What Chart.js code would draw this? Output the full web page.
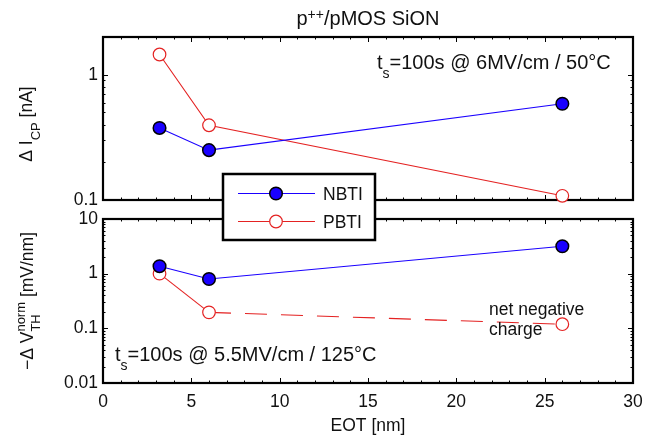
<!DOCTYPE html>
<html>
<head>
<meta charset="utf-8">
<script src="https://cdn.jsdelivr.net/npm/chart.js@4.4.1/dist/chart.umd.min.js"></script>
<style>
  html, body { margin: 0; padding: 0; background: #fff; }
  #wrap { position: relative; width: 659px; height: 441px; }
  #wrap canvas { position: absolute; left: 0; top: 0; }
</style>
</head>
<body>
<div id="wrap">
  <canvas id="icpChart" width="659" height="441"></canvas>
  <canvas id="vthChart" width="659" height="441"></canvas>
</div>
<script>
// EOT in nm for the three gate stacks
const eot = [3.2, 6, 26];

// charge pumping current shift, nA
const nbtiIcp = [0.376, 0.25, 0.587];
const pbtiIcp = [1.45, 0.395, 0.108];

// normalised threshold voltage shift, mV/nm
const nbtiVth = [1.37, 0.80, 3.18];
const pbtiVth = [1.0, 0.196, 0.119];
const pbtiDashFrom = 1; // PBTI segment from this point on is dashed

const xTicks = [0, 5, 10, 15, 20, 25, 30];
const icpTicks = [0.1, 1];
const vthTicks = [0.01, 0.1, 1, 10];

const FONT = '"Liberation Sans", Arial, Helvetica, sans-serif';
const BLUE = '#1a00ff';
const RED = '#e42222';

const pts = (xs, ys) => xs.map((x, i) => ({ x: x, y: ys[i] }));

// draws text pieces: [text, kind] with kind '', 'sub', 'sup' or 'stack' ([sub, sup])
function richText(ctx, x, y, parts, size, align) {
  const small = Math.round(size * 0.72);
  const widthOf = p => {
    if (p[1] === 'stack') {
      ctx.font = small + 'px ' + FONT;
      return Math.max(ctx.measureText(p[0][0]).width, ctx.measureText(p[0][1]).width);
    }
    ctx.font = (p[1] ? small : size) + 'px ' + FONT;
    return ctx.measureText(p[0]).width;
  };
  let total = 0;
  parts.forEach(p => { total += widthOf(p); });
  let cx = align === 'center' ? x - total / 2 : x;
  ctx.textAlign = 'left';
  ctx.textBaseline = 'alphabetic';
  parts.forEach(p => {
    const w = widthOf(p);
    if (p[1] === 'stack') {
      ctx.font = small + 'px ' + FONT;
      ctx.fillText(p[0][0], cx, y + size * 0.4);
      ctx.fillText(p[0][1], cx, y - size * 0.45);
    } else {
      ctx.font = (p[1] ? small : size) + 'px ' + FONT;
      const dy = p[1] === 'sub' ? size * 0.45 : p[1] === 'sup' ? -size * 0.3 : 0;
      ctx.fillText(p[0], cx, y + dy);
    }
    cx += w;
  });
}

// black box with inward major/minor ticks on all four sides
const framePlugin = {
  id: 'frame',
  beforeDatasetsDraw(chart) {
    const ctx = chart.ctx;
    const a = chart.chartArea;
    const xs = chart.scales.x, ys = chart.scales.y;
    ctx.save();
    ctx.strokeStyle = '#000';
    ctx.lineWidth = 1;
    ctx.beginPath();
    for (let v = xs.min; v <= xs.max; v += 1) {
      const px = Math.round(xs.getPixelForValue(v)) + 0.5;
      const len = v % 5 === 0 ? 5 : 2.5;
      ctx.moveTo(px, a.bottom); ctx.lineTo(px, a.bottom - len);
      ctx.moveTo(px, a.top); ctx.lineTo(px, a.top + len);
    }
    const d0 = Math.floor(Math.log10(ys.min)), d1 = Math.ceil(Math.log10(ys.max));
    for (let d = d0; d <= d1; d++) {
      for (let m = 1; m <= 9; m++) {
        const v = m * Math.pow(10, d);
        if (v < ys.min * 0.999 || v > ys.max * 1.001) continue;
        const py = Math.round(ys.getPixelForValue(v)) + 0.5;
        const len = m === 1 ? 5 : 2.5;
        ctx.moveTo(a.left, py); ctx.lineTo(a.left + len, py);
        ctx.moveTo(a.right, py); ctx.lineTo(a.right - len, py);
      }
    }
    ctx.stroke();
    ctx.lineWidth = 2.2;
    ctx.strokeRect(a.left, a.top, a.right - a.left, a.bottom - a.top);
    ctx.restore();
  }
};

const textPlugin = {
  id: 'texts',
  afterDraw(chart, args, opts) {
    const ctx = chart.ctx;
    ctx.save();
    ctx.fillStyle = '#111';
    if (opts.panel === 'icp') {
      richText(ctx, 368, 25, [['p', ''], ['++', 'sup'], ['/pMOS SiON', '']], 20, 'center');
      richText(ctx, 377, 69, [['t', ''], ['s', 'sub'], ['=100s @ 6MV/cm / 50°C', '']], 20, 'left');
      ctx.save();
      ctx.translate(32, 124);
      ctx.rotate(-Math.PI / 2);
      richText(ctx, 0, 0, [['\u0394 I', ''], ['CP', 'sub'], [' [nA]', '']], 17.5, 'center');
      ctx.restore();
    } else {
      richText(ctx, 115, 361, [['t', ''], ['s', 'sub'], ['=100s @ 5.5MV/cm / 125°C', '']], 20, 'left');
      richText(ctx, 489, 315, [['net negative', '']], 17.5, 'left');
      richText(ctx, 489, 335, [['charge', '']], 17.5, 'left');
      richText(ctx, 368, 431, [['EOT [nm]', '']], 17.5, 'center');
      ctx.save();
      ctx.translate(33, 301);
      ctx.rotate(-Math.PI / 2);
      richText(ctx, 0, 0, [['\u2212\u0394 V', ''], [['TH', 'norm'], 'stack'], [' [mV/nm]', '']], 17.5, 'center');
      ctx.restore();

      // legend box spanning the gap between the panels
      const lx = 223, ly = 174, lw = 152, lh = 66;
      ctx.fillStyle = '#fff';
      ctx.fillRect(lx, ly, lw, lh);
      ctx.strokeStyle = '#000';
      ctx.lineWidth = 2.5;
      ctx.strokeRect(lx, ly, lw, lh);
      const rows = [
        { label: 'NBTI', line: BLUE, fill: BLUE, edge: '#000', y: 193 },
        { label: 'PBTI', line: RED, fill: '#fff', edge: RED, y: 221 }
      ];
      rows.forEach(r => {
        ctx.strokeStyle = r.line;
        ctx.lineWidth = 1.2;
        ctx.beginPath();
        ctx.moveTo(238, r.y + 0.5); ctx.lineTo(315, r.y + 0.5);
        ctx.stroke();
        ctx.beginPath();
        ctx.arc(276, r.y + 0.5, 6.3, 0, Math.PI * 2);
        ctx.fillStyle = r.fill;
        ctx.fill();
        ctx.strokeStyle = r.edge;
        ctx.lineWidth = r.edge === '#000' ? 1.5 : 1.2;
        ctx.stroke();
        ctx.fillStyle = '#111';
        richText(ctx, 323, r.y + 6.5, [[r.label, '']], 17.5, 'left');
      });
    }
    ctx.restore();
  }
};

function series(label, data, color, filled, extra) {
  return Object.assign({
    label: label,
    data: data,
    borderColor: color,
    borderWidth: 1.1,
    pointRadius: 6.3,
    pointHoverRadius: 6.3,
    pointBackgroundColor: filled ? color : '#fff',
    pointBorderColor: filled ? '#000' : color,
    pointBorderWidth: filled ? 1.5 : 1.2,
    tension: 0,
    clip: false
  }, extra || {});
}

function panelOptions(panel, yMin, yMax, yTicks, padding, showX) {
  return {
    responsive: false,
    animation: false,
    events: [],
    layout: { padding: padding, autoPadding: false },
    plugins: { legend: { display: false }, tooltip: { enabled: false }, texts: { panel: panel } },
    scales: {
      x: {
        type: 'linear', min: 0, max: 30,
        display: showX,
        afterBuildTicks: s => { s.ticks = xTicks.map(v => ({ value: v })); },
        afterFit: s => { s.height = showX ? 30 : 0; },
        grid: { display: false, drawTicks: false },
        border: { display: false },
        ticks: { padding: 9, color: '#111', font: { family: FONT, size: 17.5 }, maxRotation: 0 }
      },
      y: {
        type: 'logarithmic', min: yMin, max: yMax,
        afterBuildTicks: s => { s.ticks = yTicks.map(v => ({ value: v })); },
        afterFit: s => { s.width = 50; },
        grid: { display: false, drawTicks: false },
        border: { display: false },
        ticks: { padding: 5, color: '#111', font: { family: FONT, size: 17.5 }, callback: v => String(v) }
      }
    }
  };
}

new Chart(document.getElementById('icpChart'), {
  type: 'line',
  data: {
    datasets: [
      series('NBTI', pts(eot, nbtiIcp), BLUE, true),
      series('PBTI', pts(eot, pbtiIcp), RED, false)
    ]
  },
  options: panelOptions('icp', 0.1, 2, icpTicks, { left: 53, right: 26, top: 37, bottom: 241 }, false),
  plugins: [framePlugin, textPlugin]
});

new Chart(document.getElementById('vthChart'), {
  type: 'line',
  data: {
    datasets: [
      series('NBTI', pts(eot, nbtiVth), BLUE, true),
      series('PBTI', pts(eot, pbtiVth), RED, false, {
        segment: { borderDash: c => (c.p0DataIndex >= pbtiDashFrom ? [22, 14] : undefined) }
      })
    ]
  },
  options: panelOptions('vth', 0.01, 10, vthTicks, { left: 53, right: 26, top: 219, bottom: 28 }, true),
  plugins: [framePlugin, textPlugin]
});
</script>
</body>
</html>
